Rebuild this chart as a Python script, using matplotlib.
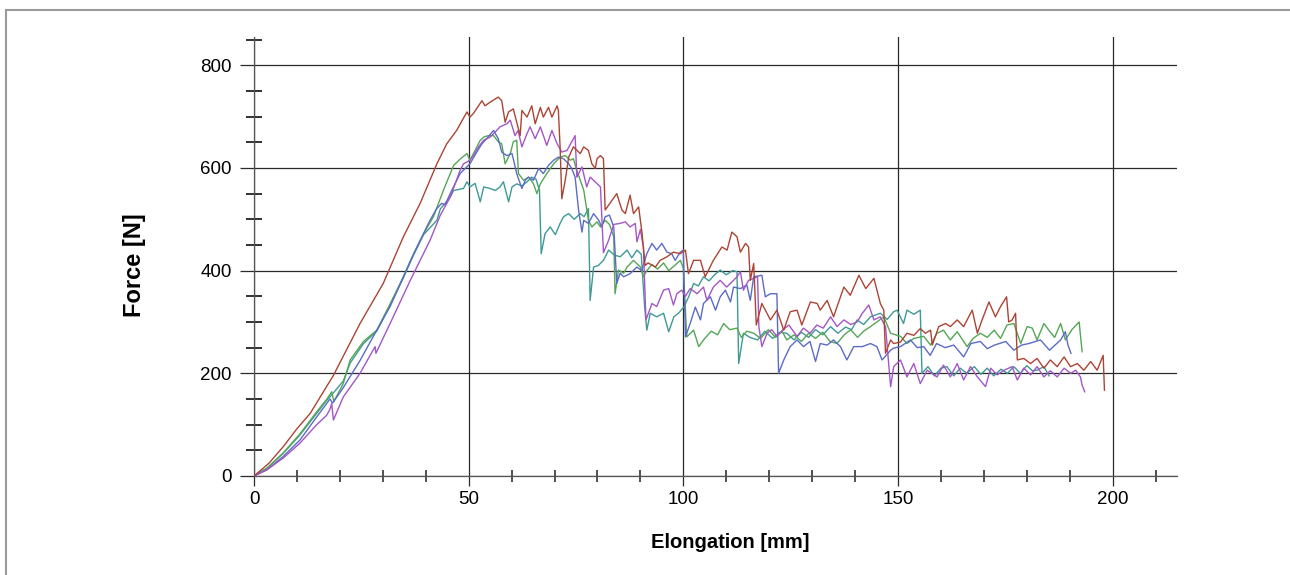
import matplotlib
matplotlib.use("Agg")
import matplotlib.pyplot as plt
from matplotlib import font_manager
from matplotlib.font_manager import FontProperties
from matplotlib.lines import Line2D
from matplotlib.ticker import MultipleLocator

# ================= Data =================
red_pts = [(0, 0), (3.5, 25), (6.8, 57), (10, 92), (13.1, 122), (18.5, 196), (24.7, 297), (30.1, 375),
           (34.8, 466), (38.7, 531), (42.6, 608), (44.9, 647), (47.2, 673), (49.6, 709), (50.3, 699),
           (51.1, 706), (53.1, 731), (53.8, 721), (55, 728), (56.9, 738), (57.7, 731), (58.5, 689),
           (59.3, 709), (60.4, 715), (62, 663), (62.4, 712), (63.6, 699), (64.7, 721), (65.5, 686),
           (66.7, 718), (67.4, 699), (68.6, 718), (69.4, 699), (70.6, 721), (70.9, 712), (71.3, 641),
           (71.7, 540), (72.5, 576), (73.3, 621), (74.4, 641), (76, 628), (76.8, 641), (77.9, 634),
           (78.7, 608), (79.5, 599), (79.9, 618), (80.7, 624), (81.4, 618), (81.8, 518), (83.4, 537),
           (84.5, 550), (85.7, 518), (86.5, 511), (87.6, 547), (88.4, 511), (89.6, 524), (90.4, 472),
           (91.1, 410), (91.8, 415), (93.5, 407), (94.6, 420), (96.2, 427), (97.7, 436), (99.3, 433),
           (100.5, 440), (101.2, 394), (102.4, 420), (104, 420), (105.1, 388), (107, 420), (109, 446),
           (110.2, 440), (111.3, 475), (112.5, 466), (113.3, 436), (114.5, 453), (115.2, 446),
           (115.6, 381), (116.4, 414), (117, 294), (118.3, 336), (120.3, 304), (121.8, 323), (123.4, 284),
           (124.9, 320), (126.5, 323), (127.6, 294), (129.6, 339), (131.2, 336), (131.9, 323),
           (133.5, 342), (135, 310), (137.4, 368), (138.9, 352), (140.9, 391), (142.5, 365), (144.4, 385),
           (145.9, 336), (146.7, 323), (147.1, 239), (148.3, 265), (149, 258), (150.6, 261), (152.1, 278),
           (153.7, 274), (155.2, 287), (156.4, 278), (157.6, 284), (158, 255), (159.5, 291), (161.1, 297),
           (162.2, 291), (163.8, 304), (165.3, 291), (167.3, 323), (168.5, 278), (169.6, 304),
           (171.2, 339), (172.7, 310), (173.9, 330), (175.3, 349), (175.8, 300), (176.6, 304),
           (177.4, 317), (177.8, 226), (179.3, 229), (180.9, 219), (182.4, 229), (184, 210), (185.5, 226),
           (187.1, 213), (188.7, 232), (190.2, 213), (191.8, 219), (193.3, 206), (194.9, 223),
           (196.4, 206), (197.8, 235), (198.1, 167)]

purple_pts = [(0, 0), (3, 12), (6.8, 35), (10.7, 64), (14.6, 100), (16.9, 118), (17.7, 130), (18.1, 141),
              (18.5, 109), (20.8, 154), (24.7, 200), (28.2, 252), (28.4, 239), (31.7, 297), (36.4, 381),
              (41, 459), (43.4, 508), (45.7, 543), (48, 595), (48.8, 608), (50.3, 615), (51.1, 624),
              (52.3, 641), (53.5, 654), (55, 660), (56.2, 670), (57.3, 680), (58.9, 686), (59.7, 693),
              (60.8, 663), (61.5, 673), (62.4, 641), (63.6, 667), (64.3, 680), (65.5, 657), (66.7, 680),
              (68.2, 644), (69.4, 673), (70.6, 647), (71.7, 631), (72.9, 634), (74, 651), (74.8, 663),
              (75.2, 582), (76.4, 602), (77.5, 563), (78.3, 582), (79.1, 576), (80.7, 563), (81.4, 435),
              (82.6, 459), (83.8, 490), (85.3, 492), (86.5, 495), (87.6, 485), (88.8, 492), (89.2, 456),
              (90, 480), (90.7, 446), (91.3, 304), (92.7, 336), (93.8, 330), (95.4, 362), (96.6, 365),
              (97.7, 333), (98.5, 355), (99.6, 362), (100.5, 350), (101.6, 365), (103.2, 355),
              (104.7, 368), (105.5, 342), (107, 368), (108.6, 381), (110.1, 368), (111.7, 381),
              (112.5, 388), (113.3, 398), (114, 362), (115.2, 381), (117.3, 388), (117.6, 291),
              (118.3, 252), (119.5, 278), (120.6, 285), (121.8, 272), (123.2, 285), (124.6, 294),
              (125.8, 280), (126.5, 272), (128, 288), (129.5, 278), (131.1, 294), (132.6, 288),
              (134.3, 310), (135.8, 291), (137.4, 304), (139, 295), (140.5, 300), (141.7, 317),
              (143.2, 333), (144.4, 304), (145.9, 310), (147.1, 291), (148.3, 174), (149, 213),
              (150.6, 226), (152.1, 193), (153.7, 219), (155.2, 180), (156.8, 206), (159.1, 193),
              (160.6, 216), (162.2, 193), (163.8, 219), (165.3, 187), (166.9, 213), (168.5, 193),
              (170.4, 174), (171.6, 210), (173.1, 197), (174.7, 206), (176.6, 213), (177.8, 187),
              (179.3, 210), (180.9, 197), (182.4, 213), (184, 193), (185.5, 205), (187.1, 193),
              (188.7, 210), (190.2, 200), (191.4, 206), (192.5, 193), (192.9, 177), (193.5, 164)]

blue_pts = [(0, 0), (3, 12), (6.8, 38), (10.7, 70), (14.6, 115), (17.7, 150), (18.3, 142), (20.8, 172),
            (24.7, 225), (28.2, 278), (31.7, 330), (35.5, 401), (38.5, 455), (41, 498), (42.5, 520),
            (43.7, 531), (44.5, 528), (45.7, 550), (48, 589), (50.3, 608), (51.9, 631), (53.1, 647),
            (54.2, 657), (55.8, 673), (56.9, 657), (57.7, 631), (58.9, 624), (60.1, 628), (61.2, 589),
            (62.4, 560), (63.2, 576), (63.9, 582), (65.1, 576), (66.3, 599), (67.4, 589), (68.6, 605),
            (69.8, 615), (70.9, 621), (72.1, 618), (73.3, 608), (74, 599), (74.8, 582), (75.6, 518),
            (76.4, 475), (76.8, 498), (77.9, 492), (79.1, 511), (80.3, 498), (81, 485), (81.8, 505),
            (82.8, 508), (83.8, 485), (84.5, 375), (85.3, 395), (86.1, 388), (87.6, 394), (89.2, 407),
            (90.3, 400), (91.5, 433), (92.7, 453), (93.8, 440), (95, 453), (96.2, 436), (97.3, 433),
            (98.1, 420), (99.3, 436), (100, 440), (100.5, 271), (101.6, 297), (102.8, 329), (104, 304),
            (104.7, 336), (106.3, 349), (107.5, 323), (108.6, 349), (109.8, 362), (111, 339),
            (111.7, 368), (113.3, 365), (114.8, 372), (115.6, 342), (116.4, 388), (118.3, 391),
            (119.1, 349), (120.3, 355), (121.8, 355), (122.2, 200), (123.4, 226), (124.9, 252),
            (126.5, 265), (128, 252), (129.5, 262), (130.8, 223), (131.9, 258), (133.5, 255), (135, 265),
            (136.6, 252), (138.1, 226), (139.7, 252), (141.7, 252), (143.6, 258), (145.1, 252),
            (146.3, 226), (148.3, 245), (149, 249), (150.6, 252), (152.9, 265), (154.5, 250), (156, 252),
            (157.5, 235), (159, 258), (161, 250), (163, 255), (165.3, 232), (167, 258), (169.2, 262),
            (170.8, 248), (172.5, 255), (175.1, 262), (177, 245), (178.8, 255), (180.5, 258),
            (183.2, 265), (185.3, 245), (187.9, 265), (189, 281), (189.6, 255), (190.3, 239)]

green_pts = [(0, 0), (3, 15), (6.8, 45), (10.7, 82), (14.6, 125), (17, 150), (18.1, 164), (18.6, 145),
             (20.8, 180), (22.4, 226), (25.5, 262), (28.6, 284), (31.7, 335), (34.8, 388), (37, 430),
             (39.5, 472), (41.8, 505), (44.1, 556), (46.5, 605), (48, 617), (49.6, 628), (50.3, 615),
             (51.5, 634), (52.7, 654), (53.5, 660), (54.6, 663), (55.8, 663), (56.9, 651), (57.7, 647),
             (58.5, 608), (59.7, 628), (60.4, 651), (61.2, 654), (61.6, 589), (62.8, 576), (64, 582),
             (65.1, 569), (65.9, 550), (66.7, 569), (68.2, 589), (69.8, 608), (71.3, 621), (72.5, 624),
             (73.7, 615), (74.4, 618), (75.2, 595), (76, 576), (76.8, 557), (77.9, 498), (78.7, 485),
             (79.9, 495), (80.7, 485), (81.8, 498), (82.8, 490), (83.8, 466), (84.1, 355), (84.9, 401),
             (86.1, 395), (86.9, 407), (88.4, 420), (90, 407), (90.7, 388), (91.5, 400), (92.7, 412),
             (94, 403), (95.4, 415), (96.6, 400), (98, 410), (99.3, 420), (100, 405), (100.8, 271),
             (102.4, 284), (103.6, 252), (104.7, 265), (106.5, 282), (108, 275), (109.4, 297),
             (110.8, 285), (112.5, 288), (113.5, 270), (114.8, 282), (116.4, 278), (118, 268),
             (119.8, 285), (121.5, 270), (123, 282), (124.1, 265), (125.8, 275), (127.5, 262),
             (129.2, 278), (130.8, 268), (132.5, 280), (134.2, 262), (135.8, 258), (137.5, 275),
             (139, 285), (140.6, 270), (142, 282), (143.6, 291), (145.1, 300), (146.7, 310), (148.3, 278),
             (150.6, 272), (152.1, 258), (153.7, 268), (156, 272), (157.6, 255), (159.1, 278),
             (160.6, 284), (162.2, 265), (163.8, 281), (166.1, 252), (167.5, 268), (169.2, 278),
             (170.8, 270), (172.4, 284), (173.9, 268), (175.4, 294), (177, 297), (178.6, 258),
             (180.1, 291), (181.3, 288), (182.4, 265), (184, 297), (185.5, 280), (186.5, 270),
             (187.9, 297), (189, 265), (190.5, 285), (192.2, 300), (192.9, 242)]

teal_pts = [(0, 0), (3, 15), (6.8, 44), (10.7, 80), (14.6, 122), (17, 148), (18.1, 158), (20.8, 185),
            (22.4, 220), (25.5, 258), (28.6, 282), (31.7, 333), (34.8, 386), (37, 428), (39.5, 470),
            (42.6, 498), (43.4, 520), (45.7, 543), (46.5, 556), (48.8, 560), (49.6, 573), (50.3, 563),
            (51.5, 570), (52.7, 534), (53.5, 563), (55, 560), (56.2, 556), (57.3, 563), (58.1, 573),
            (59.3, 534), (60.1, 563), (61.2, 569), (62.4, 565), (63.6, 573), (64.7, 582), (65.7, 578),
            (66.5, 556), (66.9, 433), (67.8, 472), (69, 485), (70.2, 470), (71.3, 492), (72.1, 505),
            (73.3, 511), (74.6, 500), (76, 511), (76.9, 505), (77.9, 521), (78.3, 342), (79.1, 407),
            (80.2, 410), (81.4, 420), (82.6, 440), (84, 430), (85.3, 427), (86.9, 440), (88, 425),
            (89.2, 440), (90.2, 432), (91, 329), (91.5, 284), (92.3, 317), (93.8, 310), (95.4, 317),
            (96.6, 281), (97.8, 310), (99, 318), (100.2, 330), (101.3, 350), (102.4, 375), (103.5, 370),
            (104.7, 388), (106, 380), (107.3, 392), (108.6, 401), (110, 392), (111.5, 400), (112.5, 398),
            (112.9, 219), (114, 278), (115.5, 270), (117.3, 265), (119, 282), (120.8, 268), (122.5, 280),
            (124.1, 278), (125.8, 265), (127.5, 280), (129.2, 270), (130.8, 285), (132.5, 275),
            (134.3, 291), (136, 278), (137.8, 290), (139.2, 285), (140.5, 304), (142, 295), (143.6, 310),
            (145.9, 317), (147.5, 305), (149, 320), (149.8, 323), (151.3, 297), (152.1, 323),
            (153.7, 315), (155.2, 323), (155.6, 200), (157, 213), (158.5, 195), (160, 210), (161.4, 213),
            (163, 195), (164.5, 210), (166, 200), (167.8, 213), (169.3, 198), (170.8, 210), (172.3, 195),
            (174, 208), (175.5, 200), (177, 213), (178.5, 200), (180, 215), (181.3, 205), (182.4, 206),
            (184, 213), (185.2, 195)]

series = [
    (teal_pts, '#3f9a95'),
    (green_pts, '#55a656'),
    (blue_pts, '#5b6cc6'),
    (purple_pts, '#a456c6'),
    (red_pts, '#ad4434'),
]

x_major = [0, 50, 100, 150, 200]
y_major = [0, 200, 400, 600, 800]
# ===========================================

plt.rcParams['font.family'] = ['Liberation Sans', 'DejaVu Sans']

# the x label in the original is a narrow bold face; use the narrow family if present
try:
    font_manager.findfont(FontProperties(family='Liberation Sans Narrow', weight='bold'),
                          fallback_to_default=False)
    xlabel_font = {'family': ['Liberation Sans Narrow', 'DejaVu Sans'], 'size': 17}
except ValueError:
    xlabel_font = {'family': ['Liberation Sans', 'DejaVu Sans'], 'size': 14.5}

fig = plt.figure(figsize=(12.9, 5.75), dpi=100)
ax = fig.add_axes([254 / 1290, 99 / 575, 923 / 1290, 439 / 575])

for pts, color in series:
    xs = [p[0] for p in pts]
    ys = [p[1] for p in pts]
    ax.plot(xs, ys, color=color, linewidth=1.0, zorder=3)

ax.set_xlim(0, 215)
ax.set_ylim(0, 855)
ax.set_xticks(x_major)
ax.set_yticks(y_major)
ax.xaxis.set_minor_locator(MultipleLocator(10))
ax.yaxis.set_minor_locator(MultipleLocator(50))

ax.grid(True, which='major', color='#2a2a2a', linewidth=0.9, zorder=1)

for side in ['top', 'right']:
    ax.spines[side].set_visible(False)
for side in ['left', 'bottom']:
    ax.spines[side].set_color('#555555')
    ax.spines[side].set_linewidth(0.9)

ax.tick_params(axis='x', which='major', direction='out', length=7.5, width=0.9,
               color='#2a2a2a', labelsize=13.5, pad=3)
ax.tick_params(axis='y', which='major', direction='out', length=10, width=0.9,
               color='#2a2a2a', labelsize=13.5, pad=6)
ax.tick_params(axis='x', which='minor', direction='inout', length=9, width=1.1, color='#222222')
ax.tick_params(axis='y', which='minor', direction='inout', length=11, width=1.3, color='#222222')

ax.set_xlabel('Elongation [mm]', fontweight='bold', **xlabel_font)
ax.set_ylabel('Force [N]', fontsize=17, fontweight='bold')
ax.xaxis.set_label_coords((730 - 254) / 923, -0.13)
ax.yaxis.set_label_coords((145.5 - 254) / 923, 0.48)

# thin grey frame at the top and left of the picture
fig.add_artist(Line2D([6 / 1290, 6 / 1290], [0, 1 - 10 / 575], color='#9a9a9a', linewidth=1.5))
fig.add_artist(Line2D([6 / 1290, 1], [1 - 10 / 575, 1 - 10 / 575], color='#9a9a9a', linewidth=1.5))

fig.savefig('out.png', dpi=100)
